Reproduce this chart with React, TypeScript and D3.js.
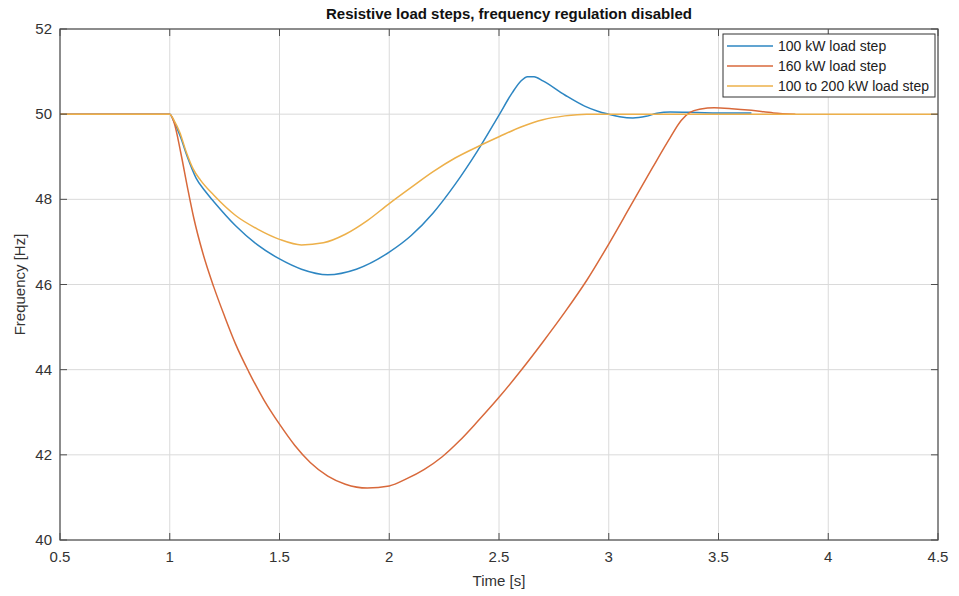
import { useEffect } from 'react';
import * as d3 from 'd3';

// time [s] / frequency [Hz]
const blueT = [0.5, 1.0, 1.02, 1.05, 1.08, 1.12, 1.16, 1.2, 1.3, 1.4, 1.5, 1.6, 1.72, 1.85, 2.0, 2.1, 2.2, 2.3, 2.4, 2.5, 2.56, 2.6, 2.63, 2.66, 2.7, 2.8, 2.89, 2.95, 3.0, 3.05, 3.11, 3.17, 3.22, 3.28, 3.4, 3.5, 3.65];
const blueF = [50, 50, 49.82, 49.45, 49.0, 48.5, 48.2, 47.95, 47.38, 46.93, 46.6, 46.36, 46.23, 46.36, 46.76, 47.15, 47.68, 48.35, 49.12, 49.98, 50.5, 50.78, 50.88, 50.88, 50.78, 50.45, 50.19, 50.07, 50.0, 49.94, 49.91, 49.95, 50.02, 50.05, 50.04, 50.03, 50.03];

const orangeT = [0.5, 1.0, 1.02, 1.05, 1.08, 1.11, 1.15, 1.2, 1.25, 1.3, 1.36, 1.43, 1.5, 1.57, 1.64, 1.72, 1.8, 1.9, 2.0, 2.08, 2.16, 2.24, 2.32, 2.4, 2.5, 2.6, 2.7, 2.8, 2.9, 3.0, 3.1, 3.2, 3.28, 3.33, 3.37, 3.42, 3.48, 3.56, 3.65, 3.75, 3.85];
const orangeF = [50, 50, 49.8, 49.1, 48.3, 47.55, 46.75, 45.95, 45.25, 44.6, 43.95, 43.28, 42.72, 42.22, 41.82, 41.5, 41.31, 41.22, 41.27, 41.44, 41.66, 41.95, 42.33, 42.77, 43.35, 43.98, 44.65, 45.35, 46.1, 46.95, 47.85, 48.75, 49.45, 49.85, 50.04, 50.12, 50.15, 50.13, 50.09, 50.03, 50.0];

const yellowT = [0.5, 1.0, 1.02, 1.045, 1.076, 1.106, 1.14, 1.2, 1.3, 1.4, 1.5, 1.6, 1.7, 1.8, 1.9, 2.0, 2.1, 2.2, 2.3, 2.4, 2.5, 2.6, 2.7, 2.8, 2.9, 3.0, 4.5];
const yellowF = [50, 50, 49.85, 49.58, 49.1, 48.72, 48.45, 48.1, 47.62, 47.3, 47.06, 46.93, 46.98, 47.18, 47.5, 47.9, 48.28, 48.65, 48.97, 49.23, 49.47, 49.7, 49.87, 49.96, 50.0, 50.0, 50.0];

const seriesNames = ['100 kW load step', '160 kW load step', '100 to 200 kW load step'];
const seriesColors = ['#2d86c2', '#d8693b', '#edb04a'];

const xTicks = [0.5, 1, 1.5, 2, 2.5, 3, 3.5, 4, 4.5];
const yTicks = [40, 42, 44, 46, 48, 50, 52];

const W = 959;
const H = 596;
const m = { left: 60, right: 938, top: 29, bottom: 540 };
const font = '"Liberation Sans", Arial, sans-serif';

export default function App() {
  useEffect(() => {
    document.body.style.margin = '0';
  }, []);

  const x = d3.scaleLinear().domain([0.5, 4.5]).range([m.left, m.right]);
  const y = d3.scaleLinear().domain([40, 52]).range([m.bottom, m.top]);

  const line = d3.line<[number, number]>()
    .x(d => x(d[0]))
    .y(d => y(d[1]))
    .curve(d3.curveMonotoneX);

  const series = [
    blueT.map((t, i) => [t, blueF[i]] as [number, number]),
    orangeT.map((t, i) => [t, orangeF[i]] as [number, number]),
    yellowT.map((t, i) => [t, yellowF[i]] as [number, number]),
  ];

  const axisColor = '#4d4d4d';
  const textColor = '#333';

  return (
    <svg width={W} height={H} style={{ display: 'block', background: '#fff' }} fontFamily={font}>
      {/* grid */}
      {xTicks.map(t => (
        <line key={'gx' + t} x1={x(t)} x2={x(t)} y1={m.top} y2={m.bottom} stroke="#dadada" strokeWidth={1} />
      ))}
      {yTicks.map(v => (
        <line key={'gy' + v} x1={m.left} x2={m.right} y1={y(v)} y2={y(v)} stroke="#dadada" strokeWidth={1} />
      ))}

      {/* curves */}
      {series.map((s, i) => (
        <path key={i} d={line(s) ?? ''} fill="none" stroke={seriesColors[i]} strokeWidth={1.5} />
      ))}

      {/* box */}
      <rect x={m.left} y={m.top} width={m.right - m.left} height={m.bottom - m.top} fill="none" stroke={axisColor} strokeWidth={1.2} />

      {/* ticks */}
      {xTicks.map(t => (
        <g key={'tx' + t}>
          <line x1={x(t)} x2={x(t)} y1={m.bottom} y2={m.bottom - 7} stroke={axisColor} />
          <line x1={x(t)} x2={x(t)} y1={m.top} y2={m.top + 7} stroke={axisColor} />
          <text x={x(t)} y={m.bottom + 22} textAnchor="middle" fontSize={15} fill={textColor}>{t}</text>
        </g>
      ))}
      {yTicks.map(v => (
        <g key={'ty' + v}>
          <line x1={m.left} x2={m.left + 7} y1={y(v)} y2={y(v)} stroke={axisColor} />
          <line x1={m.right} x2={m.right - 7} y1={y(v)} y2={y(v)} stroke={axisColor} />
          <text x={m.left - 8} y={y(v) + 5} textAnchor="end" fontSize={15} fill={textColor}>{v}</text>
        </g>
      ))}

      {/* titles */}
      <text x={(m.left + m.right) / 2 + 10} y={19} textAnchor="middle" fontSize={15} fontWeight="bold" fill="#111">
        Resistive load steps, frequency regulation disabled
      </text>
      <text x={(m.left + m.right) / 2} y={586} textAnchor="middle" fontSize={15} fill={textColor}>Time [s]</text>
      <text transform={`translate(25, ${(m.top + m.bottom) / 2}) rotate(-90)`} textAnchor="middle" fontSize={15} fill={textColor}>
        Frequency [Hz]
      </text>

      {/* legend */}
      <g>
        <rect x={723} y={34} width={212} height={63} fill="#fff" stroke="#333" strokeWidth={1} />
        {seriesNames.map((n, i) => (
          <g key={n}>
            <line x1={727} x2={773} y1={46 + i * 20} y2={46 + i * 20} stroke={seriesColors[i]} strokeWidth={1.5} />
            <text x={778} y={51 + i * 20} fontSize={14} fill="#222">{n}</text>
          </g>
        ))}
      </g>
    </svg>
  );
}
